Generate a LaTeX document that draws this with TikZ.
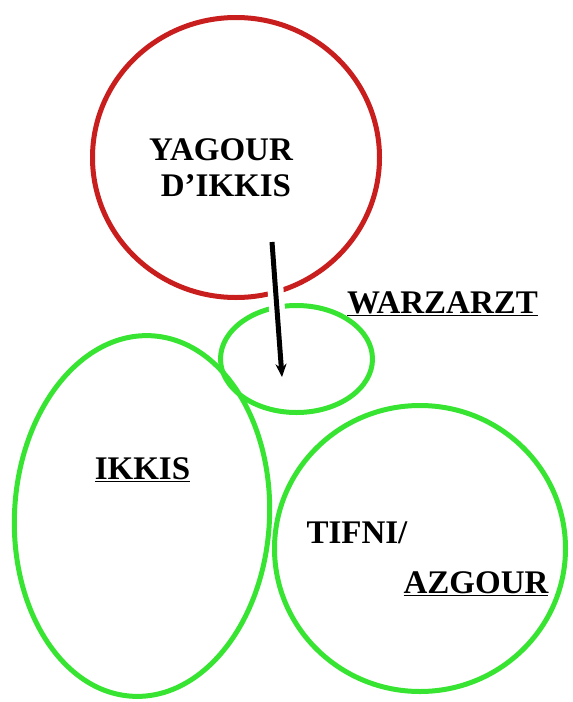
\documentclass[tikz,border=0pt]{standalone}
\usepackage{fontspec}
\setmainfont{Liberation Serif}
\usetikzlibrary{shapes.geometric,arrows.meta}
\definecolor{ringred}{RGB}{200,30,30}
\definecolor{ringgreen}{RGB}{55,228,50}

\begin{document}
\begin{tikzpicture}[x=1pt,y=-1pt,
  ring/.style={ellipse,draw,line width=5pt,inner sep=0pt},
  lbl/.style={anchor=base,font=\fontsize{33}{37}\selectfont\bfseries}]
  \useasboundingbox (0,0) rectangle (573,702);
  % the four areas
  \node[ring,draw=ringred,minimum width=287pt,minimum height=280pt] (yagour) at (236,157.5) {};
  \node[ring,draw=ringgreen,minimum width=152pt,minimum height=107pt] (warzarzt) at (296.5,359) {};
  \node[ring,draw=ringgreen,minimum width=255pt,minimum height=361pt,rotate=-3] (ikkis) at (142,516) {};
  \node[ring,draw=ringgreen,minimum width=291pt,minimum height=286pt] (tifni) at (420,548.5) {};
  % arrow from the upper ring down
  \coordinate (tail) at (272,242);
  \coordinate (head) at (282,377);
  \draw[line width=5pt,-{Stealth[length=13pt,width=11pt]},
    preaction={draw=white,line width=16pt,-}] (tail) -- (head);
  % names
  \node[lbl] (yagourtxt) at (221,160) {YAGOUR};
  \node[lbl] (dikkistxt) at (226,196) {D’IKKIS};
  \node[lbl] (warztxt) at (442.5,313) {\underline{WARZARZT}};
  \node[lbl] (ikkistxt) at (142.5,479) {\underline{IKKIS}};
  \node[lbl] (tifnitxt) at (357,543) {TIFNI/};
  \node[lbl] (azgourtxt) at (476,593) {\underline{AZGOUR}};
\end{tikzpicture}
\end{document}
